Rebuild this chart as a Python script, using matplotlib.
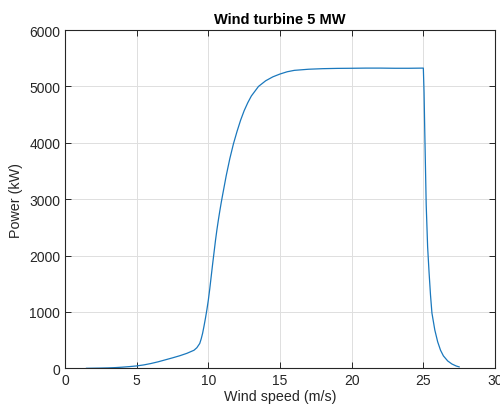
import matplotlib.pyplot as plt
import numpy as np

plt.rcParams['font.family'] = ['Liberation Sans', 'DejaVu Sans']

# power curve (m/s, kW)
wind_speed = [1.5, 2.0, 2.5, 3.0, 3.5, 4.0, 4.5, 5.0, 5.5, 6.0, 6.5, 7.0, 7.5,
              8.0, 8.5, 9.0, 9.2, 9.4, 9.5, 9.6, 9.7, 9.8, 9.9, 10.0, 10.1,
              10.2, 10.3, 10.4, 10.5, 10.6, 10.7, 10.8, 10.9, 11.0, 11.25,
              11.5, 11.75, 12.0, 12.25, 12.5, 12.75, 13.0, 13.5, 14.0, 14.5,
              15.0, 15.5, 16.0, 17.0, 18.0, 19.0, 20.0, 21.0, 22.0, 23.0,
              24.0, 25.0, 25.05, 25.1, 25.2, 25.3, 25.4, 25.5, 25.6, 25.8,
              26.0, 26.2, 26.4, 26.7, 27.0, 27.3, 27.5]
power = [0, 2, 4, 7, 12, 20, 30, 42, 60, 85, 115, 150, 185,
         222, 265, 320, 365, 440, 520, 620, 750, 890, 1040, 1210, 1410,
         1630, 1850, 2060, 2270, 2460, 2630, 2790, 2940, 3080, 3420,
         3720, 3980, 4200, 4400, 4570, 4710, 4830, 5000, 5100, 5170,
         5220, 5260, 5285, 5305, 5315, 5320, 5322, 5325, 5325, 5322,
         5322, 5325, 4900, 4200, 2900, 2150, 1700, 1300, 980, 680,
         470, 320, 220, 130, 75, 40, 25]

x_ticks = [0, 5, 10, 15, 20, 25, 30]
y_ticks = [0, 1000, 2000, 3000, 4000, 5000, 6000]

fig = plt.figure(figsize=(5, 4.14), dpi=100)
ax = fig.add_axes([0.13, 0.108, 0.86, 0.817])

ax.plot(wind_speed, power, color='#1a78bd', linewidth=0.9)

ax.set_xlim(0, 30)
ax.set_ylim(0, 6000)
ax.set_xticks(x_ticks)
ax.set_yticks(y_ticks)
ax.grid(True, color='#dedede', linewidth=0.7)
ax.set_axisbelow(True)

for s in ax.spines.values():
    s.set_color('#262626')
    s.set_linewidth(0.8)
ax.tick_params(direction='in', top=True, right=True, length=4, width=0.7,
               color='#262626', labelcolor='#262626', labelsize=10)

ax.set_title('Wind turbine 5 MW', fontsize=10.5, fontweight='bold', pad=5)
ax.set_xlabel('Wind speed (m/s)', fontsize=10.3, color='#262626', labelpad=1)
ax.set_ylabel('Power (kW)', fontsize=10.3, color='#262626', labelpad=4)

fig.savefig('out.png', dpi=100)
